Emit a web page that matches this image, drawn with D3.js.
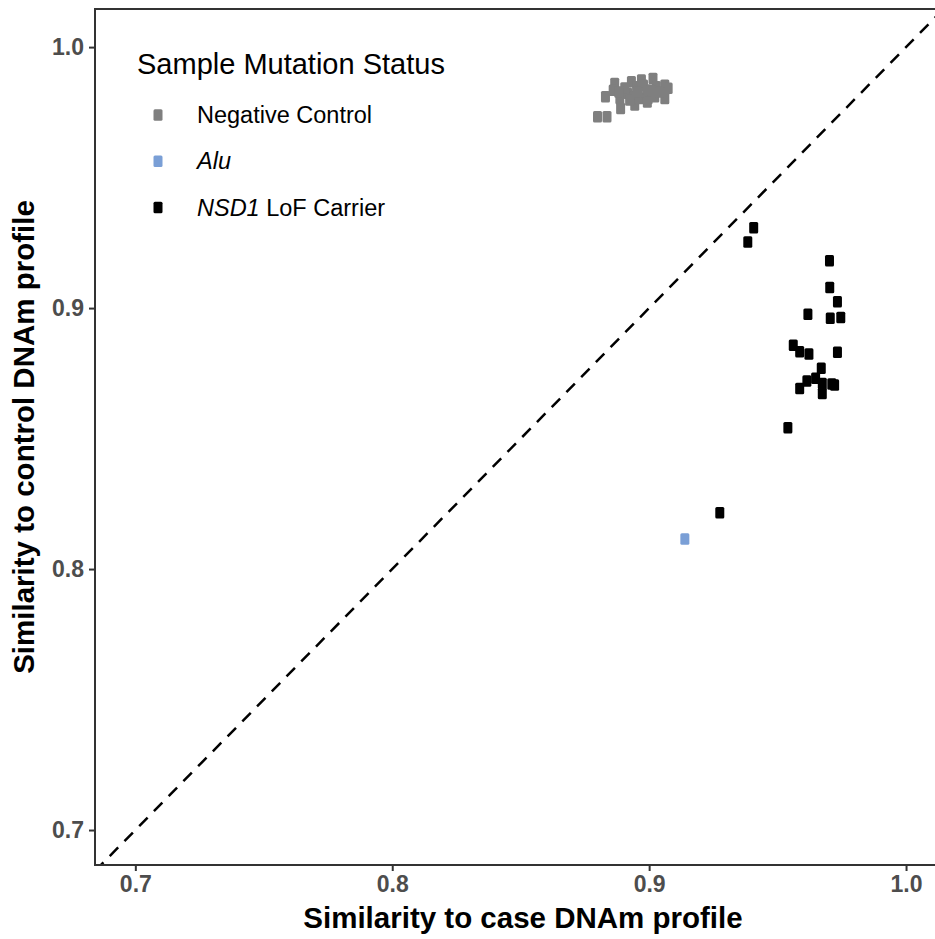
<!DOCTYPE html>
<html>
<head>
<meta charset="utf-8">
<script src="https://cdn.jsdelivr.net/npm/d3@7"></script>
<style>
  body { margin: 0; background: #fff; }
  svg { display: block; font-family: "Liberation Sans", Arial, sans-serif; }
</style>
</head>
<body>
<svg id="plot"></svg>
<script>
const plotWidth = 935
const plotHeight = 939

// Groups, in legend order
const groups = ['Negative Control', 'Alu', 'NSD1 LoF Carrier']
const groupColors = ['#7f7f7f', '#7a9fd6', '#000000']

// Negative controls: [case similarity, control similarity]
const controlCase = [0.8799, 0.8836, 0.8830, 0.8866, 0.8860, 0.8886, 0.8889, 0.8916, 0.8931, 0.8941,
    0.8951, 0.8944, 0.8963, 0.8970, 0.8990, 0.8996, 0.8993, 0.9015, 0.9028, 0.9022,
    0.9061, 0.9061, 0.9074, 0.8905, 0.8924, 0.8978, 0.9041, 0.8955, 0.9006, 0.8882]
const controlCtrl = [0.9733, 0.9733, 0.9810, 0.9861, 0.9835, 0.9803, 0.9765, 0.9823, 0.9867, 0.9810,
    0.9848, 0.9778, 0.9803, 0.9874, 0.9835, 0.9803, 0.9790, 0.9880, 0.9848, 0.9810,
    0.9854, 0.9803, 0.9842, 0.9843, 0.9797, 0.9854, 0.9828, 0.9828, 0.9835, 0.9828]

// Alu sample
const aluCase = [0.9139]
const aluCtrl = [0.8115]

// NSD1 loss-of-function carriers
const nsd1Case = [0.9407, 0.9384, 0.9702, 0.9703, 0.9733, 0.9618, 0.9705, 0.9746, 0.9561, 0.9586,
    0.9622, 0.9733, 0.9670, 0.9648, 0.9614, 0.9586, 0.9674, 0.9674, 0.9711, 0.9722,
    0.9540, 0.9275]
const nsd1Ctrl = [0.9308, 0.9253, 0.9181, 0.9079, 0.9024, 0.8976, 0.8961, 0.8964, 0.8858, 0.8833,
    0.8824, 0.8831, 0.8769, 0.8731, 0.8721, 0.8692, 0.8711, 0.8673, 0.8709, 0.8705,
    0.8541, 0.8216]

const xTicks = [0.7, 0.8, 0.9, 1.0]
const yTicks = [0.7, 0.8, 0.9, 1.0]

const panel = { left: 95, top: 9, right: 951, bottom: 865 }

var svg_plot = d3.select('#plot')
    .attr('width', plotWidth)
    .attr('height', plotHeight);

var xScale = d3.scaleLinear()
    .domain([0.6843, 1.0175])
    .range([panel.left, panel.right]);

var yScale = d3.scaleLinear()
    .domain([0.6866, 1.0146])
    .range([panel.bottom, panel.top]);

// build point list from the arrays
var points = [];
function addPoints(xs, ys, g) {
    xs.forEach((x, i) => points.push({ x: x, y: ys[i], group: g }));
}
addPoints(controlCase, controlCtrl, 0);
addPoints(aluCase, aluCtrl, 1);
addPoints(nsd1Case, nsd1Ctrl, 2);

svg_plot.append('clipPath').attr('id', 'clip')
    .append('rect')
    .attr('x', panel.left).attr('y', panel.top)
    .attr('width', panel.right - panel.left)
    .attr('height', panel.bottom - panel.top);

var inner = svg_plot.append('g').attr('clip-path', 'url(#clip)');

// y = x reference line
var lo = Math.min(xScale.domain()[0], yScale.domain()[0]);
var hi = Math.max(xScale.domain()[1], yScale.domain()[1]);
inner.append('line')
    .attr('x1', xScale(lo)).attr('y1', yScale(lo))
    .attr('x2', xScale(hi)).attr('y2', yScale(hi))
    .attr('stroke', 'black')
    .attr('stroke-width', 2.5)
    .attr('stroke-dasharray', '12,9');

// markers
const mw = 9, mh = 11.5;
inner.selectAll('rect.pt')
    .data(points)
    .enter()
    .append('rect')
    .attr('class', 'pt')
    .attr('x', d => xScale(d.x) - mw / 2)
    .attr('y', d => yScale(d.y) - mh / 2)
    .attr('width', mw)
    .attr('height', mh)
    .attr('rx', 1.5)
    .attr('fill', d => groupColors[d.group]);

// panel border
svg_plot.append('rect')
    .attr('x', panel.left).attr('y', panel.top)
    .attr('width', panel.right - panel.left)
    .attr('height', panel.bottom - panel.top)
    .attr('fill', 'none')
    .attr('stroke', '#333333')
    .attr('stroke-width', 2);

// axes
var xAxis = svg_plot.append('g')
    .attr('transform', `translate(0,${panel.bottom})`)
    .call(d3.axisBottom(xScale).tickValues(xTicks).tickFormat(d3.format('.1f')).tickSize(6).tickPadding(5));
var yAxis = svg_plot.append('g')
    .attr('transform', `translate(${panel.left},0)`)
    .call(d3.axisLeft(yScale).tickValues(yTicks).tickFormat(d3.format('.1f')).tickSize(6).tickPadding(5));

[xAxis, yAxis].forEach(ax => {
    ax.select('.domain').remove();
    ax.selectAll('line').attr('stroke', '#333333').attr('stroke-width', 2);
    ax.selectAll('text')
        .attr('fill', '#4d4d4d')
        .style('font-family', '"Liberation Sans", Arial, sans-serif')
        .style('font-weight', 'bold')
        .style('font-size', '23px');
});

// axis titles
svg_plot.append('text')
    .attr('x', (panel.left + panel.right) / 2)
    .attr('y', 928)
    .attr('text-anchor', 'middle')
    .style('font-weight', 'bold')
    .style('font-size', '29.5px')
    .text('Similarity to case DNAm profile');

svg_plot.append('text')
    .attr('transform', `translate(34,${(panel.top + panel.bottom) / 2}) rotate(-90)`)
    .attr('text-anchor', 'middle')
    .style('font-weight', 'bold')
    .style('font-size', '29.5px')
    .text('Similarity to control DNAm profile');

// legend
var legend = svg_plot.append('g');
legend.append('text')
    .attr('x', 137).attr('y', 74)
    .style('font-size', '29px')
    .text('Sample Mutation Status');

var rows = legend.selectAll('g.row')
    .data(groups)
    .enter()
    .append('g')
    .attr('class', 'row')
    .attr('transform', (d, i) => `translate(0,${115 + i * 46.3})`);

rows.append('rect')
    .attr('x', 158 - mw / 2).attr('y', -mh / 2)
    .attr('width', mw).attr('height', mh)
    .attr('rx', 1.5)
    .attr('fill', (d, i) => groupColors[i]);

var labels = rows.append('text')
    .attr('x', 197)
    .attr('y', 8)
    .style('font-size', '23.5px');
labels.each(function (d) {
    var t = d3.select(this);
    if (d === 'Alu') {
        t.append('tspan').style('font-style', 'italic').text('Alu');
    } else if (d === 'NSD1 LoF Carrier') {
        t.append('tspan').style('font-style', 'italic').text('NSD1');
        t.append('tspan').text(' LoF Carrier');
    } else {
        t.text(d);
    }
});
</script>
</body>
</html>
